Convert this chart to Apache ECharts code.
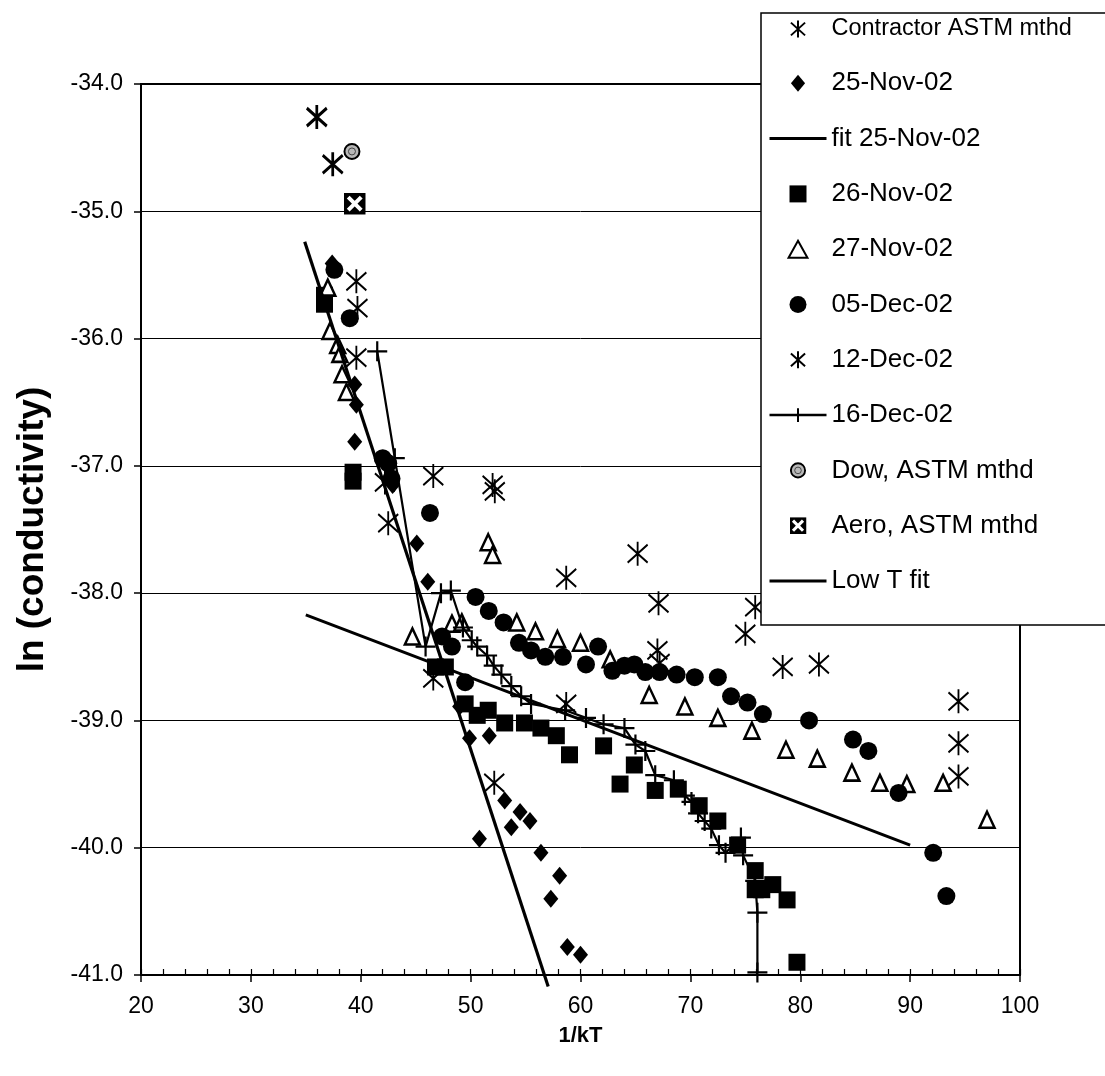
<!DOCTYPE html>
<html>
<head>
<meta charset="utf-8">
<script src="https://cdn.jsdelivr.net/npm/echarts@6/dist/echarts.min.js"></script>
<style>html,body{margin:0;padding:0;background:#fff}#c{width:1105px;height:1076px}</style>
</head>
<body>
<div id="c"></div>
<script>
// ---- data (1/kT, ln conductivity) ----
const xTickMin = 20, xTickMax = 100, xTickStep = 10;
const yTickMin = -41, yTickMax = -34, yTickStep = 1;

const contractor = [[36.0,-34.26],[37.45,-34.63]];
const nov25 = [[37.4,-35.41],[39.45,-36.36],[39.6,-36.52],[39.45,-36.81],[42.5,-37.0],[42.9,-37.15],[45.1,-37.61],[46.1,-37.91],[49.0,-38.89],[49.9,-39.14],[51.7,-39.12],[50.8,-39.93],[53.1,-39.63],[53.7,-39.84],[54.5,-39.72],[55.4,-39.79],[56.4,-40.04],[57.3,-40.4],[58.1,-40.22],[58.8,-40.78],[60.0,-40.84]];
const fitNov25 = [[34.9,-35.24],[57.06,-41.09]];
const nov26 = [[36.7,-35.66],[36.7,-35.73],[39.3,-37.05],[39.3,-37.12],[46.8,-38.58],[47.7,-38.58],[49.5,-38.87],[50.6,-38.96],[51.6,-38.92],[53.1,-39.02],[54.9,-39.02],[56.4,-39.06],[57.8,-39.12],[59.0,-39.27],[62.1,-39.2],[63.6,-39.5],[64.9,-39.35],[66.8,-39.55],[68.9,-39.54],[70.8,-39.67],[72.5,-39.79],[74.3,-39.98],[75.9,-40.18],[75.9,-40.33],[76.5,-40.33],[77.5,-40.29],[78.8,-40.41],[79.7,-40.9]];
const nov27 = [[37.0,-35.6],[37.2,-35.94],[37.9,-36.05],[38.1,-36.12],[38.3,-36.28],[38.7,-36.42],[44.7,-38.34],[48.3,-38.24],[49.2,-38.23],[51.6,-37.6],[52.0,-37.7],[54.2,-38.23],[55.9,-38.3],[57.9,-38.36],[60.0,-38.39],[62.7,-38.52],[66.25,-38.8],[69.5,-38.89],[72.5,-38.98],[75.6,-39.08],[78.7,-39.23],[81.55,-39.3],[84.7,-39.41],[87.25,-39.49],[89.7,-39.5],[93.0,-39.49],[97.0,-39.78]];
const dec05 = [[37.6,-35.46],[39.0,-35.84],[42.0,-36.94],[42.5,-36.98],[42.8,-37.1],[46.3,-37.37],[47.4,-38.34],[48.3,-38.42],[49.5,-38.7],[50.45,-38.03],[51.65,-38.14],[53.0,-38.23],[54.4,-38.39],[55.5,-38.45],[56.8,-38.5],[58.4,-38.5],[60.5,-38.56],[61.6,-38.42],[62.9,-38.61],[64.0,-38.57],[64.9,-38.56],[65.9,-38.62],[67.2,-38.62],[68.75,-38.64],[70.4,-38.66],[72.5,-38.66],[73.7,-38.81],[75.2,-38.86],[76.6,-38.95],[80.8,-39.0],[84.8,-39.15],[86.2,-39.24],[88.95,-39.57],[92.1,-40.04],[93.3,-40.38]];
const dec12 = [[39.6,-35.55],[39.7,-35.76],[39.6,-36.15],[42.2,-37.13],[42.5,-37.45],[46.6,-37.08],[52.0,-37.15],[52.2,-37.2],[58.7,-37.88],[65.2,-37.69],[67.1,-38.08],[67.0,-38.45],[67.2,-38.55],[75.9,-38.11],[75.0,-38.32],[78.4,-38.58],[81.7,-38.56],[94.4,-38.85],[94.4,-39.18],[94.4,-39.44],[46.6,-38.67],[52.15,-39.49],[58.7,-38.87]];
const dec16 = [[41.5,-36.1],[43.1,-36.94],[45.9,-38.42],[47.3,-38.0],[48.2,-37.98],[49.3,-38.27],[50.1,-38.37],[50.6,-38.42],[51.5,-38.49],[52.1,-38.57],[52.8,-38.64],[53.7,-38.73],[54.6,-38.81],[55.5,-38.87],[58.6,-38.92],[60.5,-38.98],[62.1,-39.03],[64.0,-39.06],[65.0,-39.19],[65.9,-39.24],[66.8,-39.43],[68.5,-39.47],[69.5,-39.59],[70.1,-39.64],[70.7,-39.73],[71.3,-39.79],[71.9,-39.85],[72.6,-39.98],[73.2,-40.04],[74.6,-39.92],[74.8,-40.06],[75.9,-40.26],[76.1,-40.51],[76.1,-40.98]];
const dow = [[39.2,-34.53]];
const aero = [[39.45,-34.94]];
const lowTFit = [[35,-38.17],[90,-39.98]];

const seriesNames = ['Contractor ASTM mthd','25-Nov-02','fit 25-Nov-02','26-Nov-02','27-Nov-02','05-Dec-02','12-Dec-02','16-Dec-02','Dow, ASTM mthd','Aero, ASTM mthd','Low T fit'];

// ---- styling ----
const FONT = "'Liberation Sans', Arial, Helvetica, sans-serif";
const ASTER = 'path://M10,0L10,24M0,3L20,21M20,3L0,21';
const PLUS = 'path://M10,0L10,20M0,10L20,10';
const DIAMOND = 'path://M10,0L20,12L10,24L0,12Z';
const SQUARE = 'path://M0,0L20,0L20,20L0,20Z';
const TRIANGLE = 'path://M10,0L20,18L0,18Z';
function svgImg(s){ return 'image://data:image/svg+xml;charset=utf-8,' + encodeURIComponent(s); }
const DOW_ICON = svgImg("<svg xmlns='http://www.w3.org/2000/svg' width='36' height='36'><circle cx='18' cy='18' r='15' fill='#b8b8b8' stroke='#000' stroke-width='4'/><circle cx='18' cy='18' r='7' fill='none' stroke='#444' stroke-width='2'/></svg>");
const AERO_ICON = svgImg("<svg xmlns='http://www.w3.org/2000/svg' width='44' height='44'><rect width='44' height='44' fill='#000'/><path d='M9,9L35,35M35,9L9,35' stroke='#fff' stroke-width='8'/></svg>");

const chart = echarts.init(document.getElementById('c'), null, {renderer:'canvas'});
const option = {
  animation: false,
  backgroundColor: '#fff',
  grid: {left:141, right:85, top:84, bottom:101, show:true, borderColor:'#000', borderWidth:2, backgroundColor:'transparent'},
  xAxis: [{
    type:'value', min:xTickMin, max:xTickMax, interval:xTickStep,
    name:'1/kT', nameLocation:'middle', nameGap:50,
    nameTextStyle:{fontSize:22, fontWeight:'bold', color:'#000', fontFamily:FONT},
    axisLine:{show:true, lineStyle:{color:'#000', width:2}},
    axisTick:{show:true, inside:false, length:7, lineStyle:{color:'#000', width:1.5}},
    axisLabel:{fontSize:23, color:'#000', margin:20, fontFamily:FONT},
    splitLine:{show:false}
  },{
    type:'value', min:xTickMin, max:xTickMax, interval:2, position:'bottom',
    axisLine:{show:false}, axisTick:{show:true, inside:true, length:6, lineStyle:{color:'#000', width:1.2}},
    axisLabel:{show:false}, splitLine:{show:false}
  }],
  yAxis: {
    type:'value', min:yTickMin, max:yTickMax, interval:yTickStep,
    name:'ln (conductivity)', nameLocation:'middle', nameGap:90,
    nameTextStyle:{fontSize:37, fontWeight:'bold', color:'#000', fontFamily:FONT},
    axisLine:{show:true, lineStyle:{color:'#000', width:2}},
    axisTick:{show:true, inside:false, length:7, lineStyle:{color:'#000', width:1.5}},
    axisLabel:{fontSize:23, color:'#000', margin:18, fontFamily:FONT, formatter:v=>v.toFixed(1)},
    splitLine:{show:true, lineStyle:{color:'#000', width:1}}
  },
  legend: {
    orient:'vertical', left:761, top:13,
    itemWidth:57, itemHeight:17, itemGap:29.3,
    padding:[4,80,31,7],
    backgroundColor:'#fff', borderColor:'#000', borderWidth:1.5, borderRadius:0,
    textStyle:{fontSize:26, color:'#000', fontFamily:FONT},
    selectedMode:false,
    data: seriesNames.map((n,i)=> {
      if (i===0) return {name:n, textStyle:{fontSize:23.5}};
      if (i===2 || i===10) return {name:n, itemStyle:{color:'transparent', borderWidth:0, opacity:0}, lineStyle:{width:3, color:'#000'}};
      if (i===7) return {name:n, lineStyle:{width:2.5, color:'#000'}};
      return {name:n};
    })
  },
  series: [
    {name:seriesNames[0], type:'scatter', data:contractor, symbol:ASTER, symbolSize:[20,24],
     itemStyle:{color:'transparent', borderColor:'#000', borderWidth:3, opacity:1}},
    {name:seriesNames[1], type:'scatter', data:nov25, symbol:DIAMOND, symbolSize:[15,18],
     itemStyle:{color:'#000', opacity:1}},
    {name:seriesNames[2], type:'line', data:fitNov25, symbol:'none', clip:false,
     lineStyle:{color:'#000', width:3.2}, itemStyle:{color:'transparent'}},
    {name:seriesNames[3], type:'scatter', data:nov26, symbol:SQUARE, symbolSize:17,
     itemStyle:{color:'#000', opacity:1}},
    {name:seriesNames[4], type:'scatter', data:nov27, symbol:TRIANGLE, symbolSize:[15,16],
     itemStyle:{color:'#fff', borderColor:'#000', borderWidth:2.5, opacity:1}},
    {name:seriesNames[5], type:'scatter', data:dec05, symbol:'circle', symbolSize:18,
     itemStyle:{color:'#000', opacity:1}},
    {name:seriesNames[6], type:'scatter', data:dec12, symbol:ASTER, symbolSize:[20,24],
     itemStyle:{color:'transparent', borderColor:'#000', borderWidth:2, opacity:1}},
    {name:seriesNames[7], type:'line', data:dec16, symbol:PLUS, symbolSize:20, showSymbol:true, showAllSymbol:true, clip:false,
     lineStyle:{color:'#000', width:2.2}, itemStyle:{color:'transparent', borderColor:'#000', borderWidth:2.2, opacity:1}},
    {name:seriesNames[8], type:'scatter', data:dow, symbol:DOW_ICON, symbolSize:18, itemStyle:{opacity:1}},
    {name:seriesNames[9], type:'scatter', data:aero, symbol:AERO_ICON, symbolSize:22, itemStyle:{opacity:1}},
    {name:seriesNames[10], type:'line', data:lowTFit, symbol:'none', clip:false,
     lineStyle:{color:'#000', width:3}, itemStyle:{color:'transparent'}}
  ]
};
chart.setOption(option);
</script>
</body>
</html>
